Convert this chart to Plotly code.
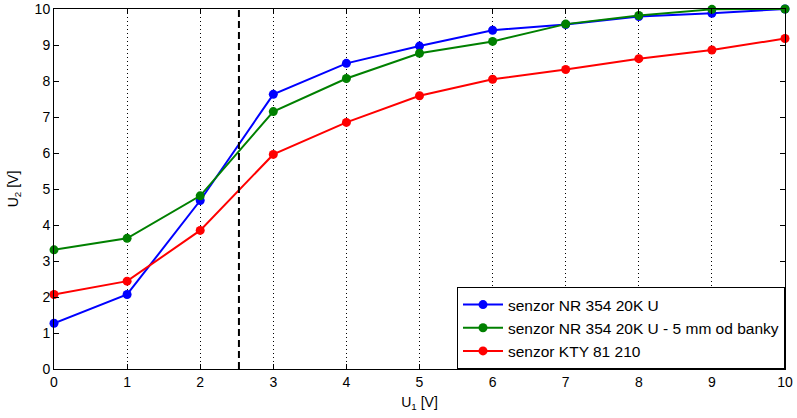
import plotly.graph_objects as go

u1 = [0, 1, 2, 3, 4, 5, 6, 7, 8, 9, 10]
nr354 = [1.27, 2.07, 4.68, 7.63, 8.49, 8.97, 9.41, 9.57, 9.79, 9.88, 10.0]
nr354_5mm = [3.31, 3.63, 4.81, 7.15, 8.07, 8.77, 9.10, 9.58, 9.82, 9.99, 10.0]
kty = [2.07, 2.44, 3.85, 5.96, 6.85, 7.59, 8.05, 8.32, 8.62, 8.86, 9.18]
names = ["senzor NR 354 20K U", "senzor NR 354 20K U - 5 mm od banky", "senzor KTY 81 210"]
colors = ["#0000ff", "#008000", "#ff0000"]
dash_x = 2.53

fig = go.Figure()
for ys, n, c in zip([nr354, nr354_5mm, kty], names, colors):
    fig.add_trace(go.Scatter(x=u1, y=ys, name=n, mode="lines+markers",
                             line=dict(color=c, width=2),
                             marker=dict(color=c, size=9, symbol="circle"),
                             cliponaxis=False))

fig.add_shape(type="line", x0=dash_x, x1=dash_x, y0=0, y1=10, xref="x", yref="y",
              line=dict(color="black", width=2, dash="7px,4px"))

font = dict(family="Liberation Sans, Arial", size=14, color="black")
axis_common = dict(showline=True, linecolor="black", linewidth=1, mirror="ticks",
                   ticks="inside", ticklen=5, tickcolor="black", zeroline=False,
                   range=[0, 10], dtick=1, tickfont=font, automargin=False)
fig.update_layout(
    width=797, height=418,
    margin=dict(l=54, r=12, t=9, b=49),
    paper_bgcolor="white", plot_bgcolor="white",
    font=font,
    xaxis=dict(**axis_common, showgrid=True, gridcolor="black", griddash="1px,3px", gridwidth=1,
               title=dict(text="U<sub>1</sub> [V]", font=font, standoff=8)),
    yaxis=dict(**axis_common, showgrid=False,
               title=dict(text="U<sub>2</sub> [V]", font=font, standoff=12)),
    legend=dict(x=1, y=0, xanchor="right", yanchor="bottom", bordercolor="black",
                borderwidth=1, bgcolor="white", font=dict(family="Liberation Sans, Arial", size=15.5, color="black"),
                tracegroupgap=0, itemwidth=40),
    showlegend=True,
)
fig.write_html("out.html", post_script="document.body.style.margin='0';",
               config={"displayModeBar": False})
